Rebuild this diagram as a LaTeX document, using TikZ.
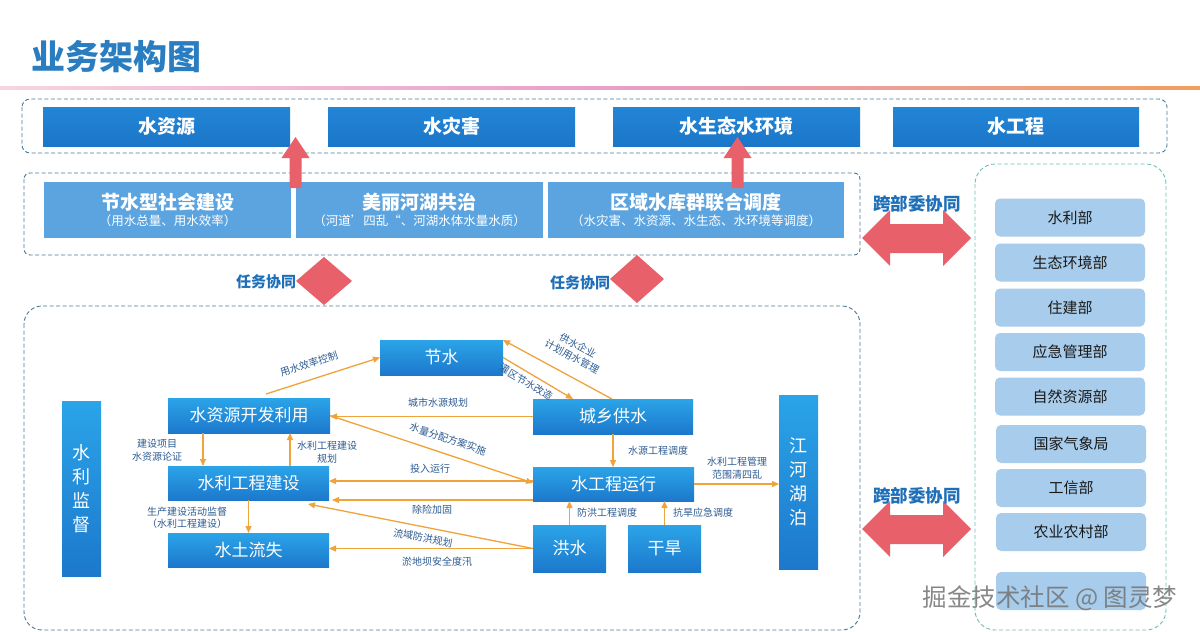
\documentclass[tikz,border=0pt]{standalone}
\usepackage{fontspec}
\setmainfont{Noto Sans CJK SC}
\usetikzlibrary{arrows.meta,calc}
\definecolor{titleblue}{HTML}{2A7DC0}
\definecolor{hdtop}{HTML}{2385D6}
\definecolor{hdbot}{HTML}{1B76C8}
\definecolor{rowblue}{HTML}{5CA4DF}
\definecolor{mtop}{HTML}{2BA4E8}
\definecolor{mbot}{HTML}{1C78CC}
\definecolor{redc}{HTML}{E8606A}
\definecolor{orangec}{HTML}{F0A33A}
\definecolor{lblblue}{HTML}{2C5B92}
\definecolor{boldblue}{HTML}{1E6FB8}
\definecolor{dashc}{HTML}{4A7A96}
\definecolor{tealc}{HTML}{6BBFB8}
\definecolor{rbox}{HTML}{A8CCEB}
\definecolor{pinkl}{HTML}{F6D4DE}
\definecolor{pinkm}{HTML}{E89FCB}
\definecolor{orangel}{HTML}{F0A060}
\begin{document}
\begin{tikzpicture}[x=1pt,y=-1pt,
  hdr/.style={top color=hdtop,bottom color=hdbot,text=white,inner sep=0,outer sep=0,
    font=\bfseries\fontsize{19}{22}\selectfont},
  rowbox/.style={fill=rowblue,text=white,inner sep=0,outer sep=0,align=center},
  mbox/.style={top color=mtop,bottom color=mbot,text=white,inner sep=0,outer sep=0,
    font=\fontsize{17}{20}\selectfont},
  vbox/.style={mbox,align=center,font=\fontsize{18}{24}\selectfont},
  rbx/.style={fill=rbox,rounded corners=5pt,inner sep=0,outer sep=0,
    minimum width=150pt,minimum height=38pt,text=black!90,font=\fontsize{15}{18}\selectfont},
  oarrow/.style={draw=orangec,line width=1.3pt,-{Triangle[length=7pt,width=6pt]}},
  lbl/.style={text=lblblue,inner sep=0,font=\fontsize{10}{12.5}\selectfont,align=center},
  blbl/.style={text=boldblue,inner sep=0,font=\bfseries\fontsize{15}{18}\selectfont},
  klbl/.style={text=boldblue,inner sep=0,font=\bfseries\fontsize{17.5}{20}\selectfont},
  dbox/.style={draw=dashc,line width=0.9pt,dash pattern=on 4pt off 2.5pt},
]
\useasboundingbox (0,0) rectangle (1200,632);
\fill[white] (0,0) rectangle (1200,632);

% title
\node[text=titleblue,font=\bfseries\fontsize{34}{38}\selectfont,inner sep=0] (title) at (116,57) {业务架构图};
\shade[left color=pinkl, right color=orangel, middle color=pinkm] (0,86) rectangle (1200,89);

% dashed frames
\draw[dbox,rounded corners=8pt] (22,99) rectangle (1167,153);
\draw[dbox,rounded corners=6pt] (24,173) rectangle (860,255);
\draw[dbox,rounded corners=18pt] (24,306) rectangle (860,630);
\draw[draw=tealc,line width=0.9pt,dash pattern=on 4pt off 2.5pt,rounded corners=20pt] (975,164) rectangle (1166,630);

% header boxes
\node[hdr,minimum width=247pt,minimum height=39pt] (h1) at (166.5,126.5) {水资源};
\node[hdr,minimum width=247pt,minimum height=39pt] (h2) at (451.5,126.5) {水灾害};
\node[hdr,minimum width=247pt,minimum height=39pt] (h3) at (736.5,126.5) {水生态水环境};
\node[hdr,minimum width=246pt,minimum height=39pt] (h4) at (1016,126.5) {水工程};

% row boxes
\node[rowbox,minimum width=247pt,minimum height=56pt] (r1) at (167.5,210)
  {{\bfseries\fontsize{19}{21}\selectfont 节水型社会建设}\\[3pt]{\fontsize{12.5}{15}\selectfont （用水总量、用水效率）}};
\node[rowbox,minimum width=247pt,minimum height=56pt] (r2) at (419.5,210)
  {{\bfseries\fontsize{19}{21}\selectfont 美丽河湖共治}\\[3pt]{\fontsize{12.5}{15}\selectfont （河道’四乱“、河湖水体水量水质）}};
\node[rowbox,minimum width=296pt,minimum height=56pt] (r3) at (696,210)
  {{\bfseries\fontsize{19}{21}\selectfont 区域水库群联合调度}\\[3pt]{\fontsize{12.5}{15}\selectfont （水灾害、水资源、水生态、水环境等调度）}};

% red up arrows
\fill[redc] (289.5,188) -- (289.5,158) -- (281.5,158) -- (295.5,137) -- (309.5,158) -- (301.5,158) -- (301.5,188) -- cycle;
\fill[redc] (731.5,188) -- (731.5,158) -- (723.5,158) -- (737.5,137) -- (751.5,158) -- (743.5,158) -- (743.5,188) -- cycle;

% double arrows
\fill[redc] (862,238) -- (890,210) -- (890,224) -- (943,224) -- (943,210) -- (971,238) -- (943,266) -- (943,253) -- (890,253) -- (890,266) -- cycle;
\fill[redc] (862,529) -- (890,501) -- (890,515) -- (943,515) -- (943,501) -- (971,529) -- (943,557) -- (943,544) -- (890,544) -- (890,557) -- cycle;
\node[klbl] (k1) at (917,204) {跨部委协同};
\node[klbl] (k2) at (917,496) {跨部委协同};

% diamonds
\fill[redc] (324,257) -- (352,281) -- (324,305) -- (296,281) -- cycle;
\fill[redc] (637,255) -- (664,279) -- (637,303) -- (610,279) -- cycle;
\node[blbl] (t1) at (266,282) {任务协同};
\node[blbl] (t2) at (580,283) {任务协同};

% right boxes
\node[rbx] (b1) at (1070,217.5) {水利部};
\node[rbx] (b2) at (1070,262.5) {生态环境部};
\node[rbx] (b3) at (1070,307.5) {住建部};
\node[rbx] (b4) at (1070,352) {应急管理部};
\node[rbx] (b5) at (1070,396.5) {自然资源部};
\node[rbx] (b6) at (1071,444) {国家气象局};
\node[rbx] (b7) at (1071,488) {工信部};
\node[rbx] (b8) at (1071,532) {农业农村部};
\node[rbx] (b9) at (1071,591) {};

% middle diagram nodes
\node[mbox,minimum width=123pt,minimum height=35pt] (js) at (441.5,357.5) {节水};
\node[mbox,minimum width=162pt,minimum height=35pt] (szy) at (249,415.5) {水资源开发利用};
\node[mbox,minimum width=160pt,minimum height=35pt] (cx) at (613,416.5) {城乡供水};
\node[mbox,minimum width=161pt,minimum height=34pt] (slgc) at (248.5,483) {水利工程建设};
\node[mbox,minimum width=161pt,minimum height=34pt] (stls) at (248.5,550) {水土流失};
\node[mbox,minimum width=161pt,minimum height=34pt] (sgc) at (613.5,484) {水工程运行};
\node[mbox,minimum width=73pt,minimum height=47pt] (hs) at (569.5,548.5) {洪水};
\node[mbox,minimum width=73pt,minimum height=47pt] (hd) at (664.5,548.5) {干旱};
\node[vbox,minimum width=39pt,minimum height=174pt] (jh) at (798.5,482) {江\\河\\湖\\泊};
\node[vbox,minimum width=39pt,minimum height=175pt] (jd) at (81.5,488.5) {水\\利\\监\\督};

% helper coordinates
\coordinate (a1) at ([xshift=-46pt]szy.south);
\coordinate (a2) at ([xshift=41.5pt]slgc.north);
\coordinate (a3) at ([yshift=3pt]sgc.west);
\coordinate (a4) at ([yshift=-16pt]sgc.west);

% connectors
\draw[oarrow] ([xshift=17pt,yshift=4pt]szy.north) -- (js.west);
\draw[oarrow] ([xshift=-1pt]cx.north) -- (js.north east);
\draw[oarrow] (js.east) -- ([xshift=-40pt]cx.north);
\draw[oarrow] (cx.west) -- (cx.west -| szy.east);
\draw[oarrow] (szy.east) -- ([yshift=1pt]sgc.west);
\draw[oarrow] (a3) -- (a3 -| slgc.east);
\draw[oarrow] (a4) -- ([xshift=3pt]a4 -| slgc.east);
\draw[oarrow] (hs.west) -- ([xshift=-21pt,yshift=-4pt]slgc.south east);
\draw[oarrow] (hs.west) -- (hs.west -| stls.east);
\draw[oarrow] (a1) -- (a1 |- slgc.north);
\draw[oarrow] (a2) -- (a2 |- szy.south);
\draw[oarrow] (slgc.south) -- (stls.north);
\draw[oarrow] (cx.south) -- (cx.south |- sgc.north);
\draw[oarrow] (hs.north) -- (hs.north |- sgc.south);
\draw[oarrow] (hd.north) -- (hd.north |- sgc.south);
\draw[oarrow] (sgc.east) -- (sgc.east -| jh.west);

% connector labels
\node[lbl,rotate=18] (l1) at (309,364) {用水效率控制};
\node[lbl,rotate=-28.4] (l2) at (575,351) {供水企业\\计划用水管理};
\node[lbl,rotate=-30.6] (l3) at (526,382) {灌区节水改造};
\node[lbl] (l4) at (438,403) {城市水源规划};
\node[lbl,rotate=-18.5] (l5) at (448,439) {水量分配方案实施};
\node[lbl] (l6) at (430,469) {投入运行};
\node[lbl] (l7) at (432,510) {除险加固};
\node[lbl,rotate=-11] (l8) at (423,538) {流域防洪规划};
\node[lbl] (l9) at (437,562) {淤地坝安全度汛};
\node[lbl] (l10) at (157,450) {建设项目\\水资源论证};
\node[lbl] (l11) at (327,452) {水利工程建设\\规划};
\node[lbl] (l12) at (187,518) {生产建设活动监督\\（水利工程建设）};
\node[lbl] (l13) at (658,451) {水源工程调度};
\node[lbl] (l14) at (607,513) {防洪工程调度};
\node[lbl] (l15) at (703,513) {抗旱应急调度};
\node[lbl] (l16) at (737,468) {水利工程管理\\范围清四乱};

% watermark
\node[text=black!55,opacity=0.85,inner sep=0,font=\fontsize{24.5}{26}\selectfont] (wm) at (1050,598) {掘金技术社区 @ 图灵梦};
\end{tikzpicture}
\end{document}
